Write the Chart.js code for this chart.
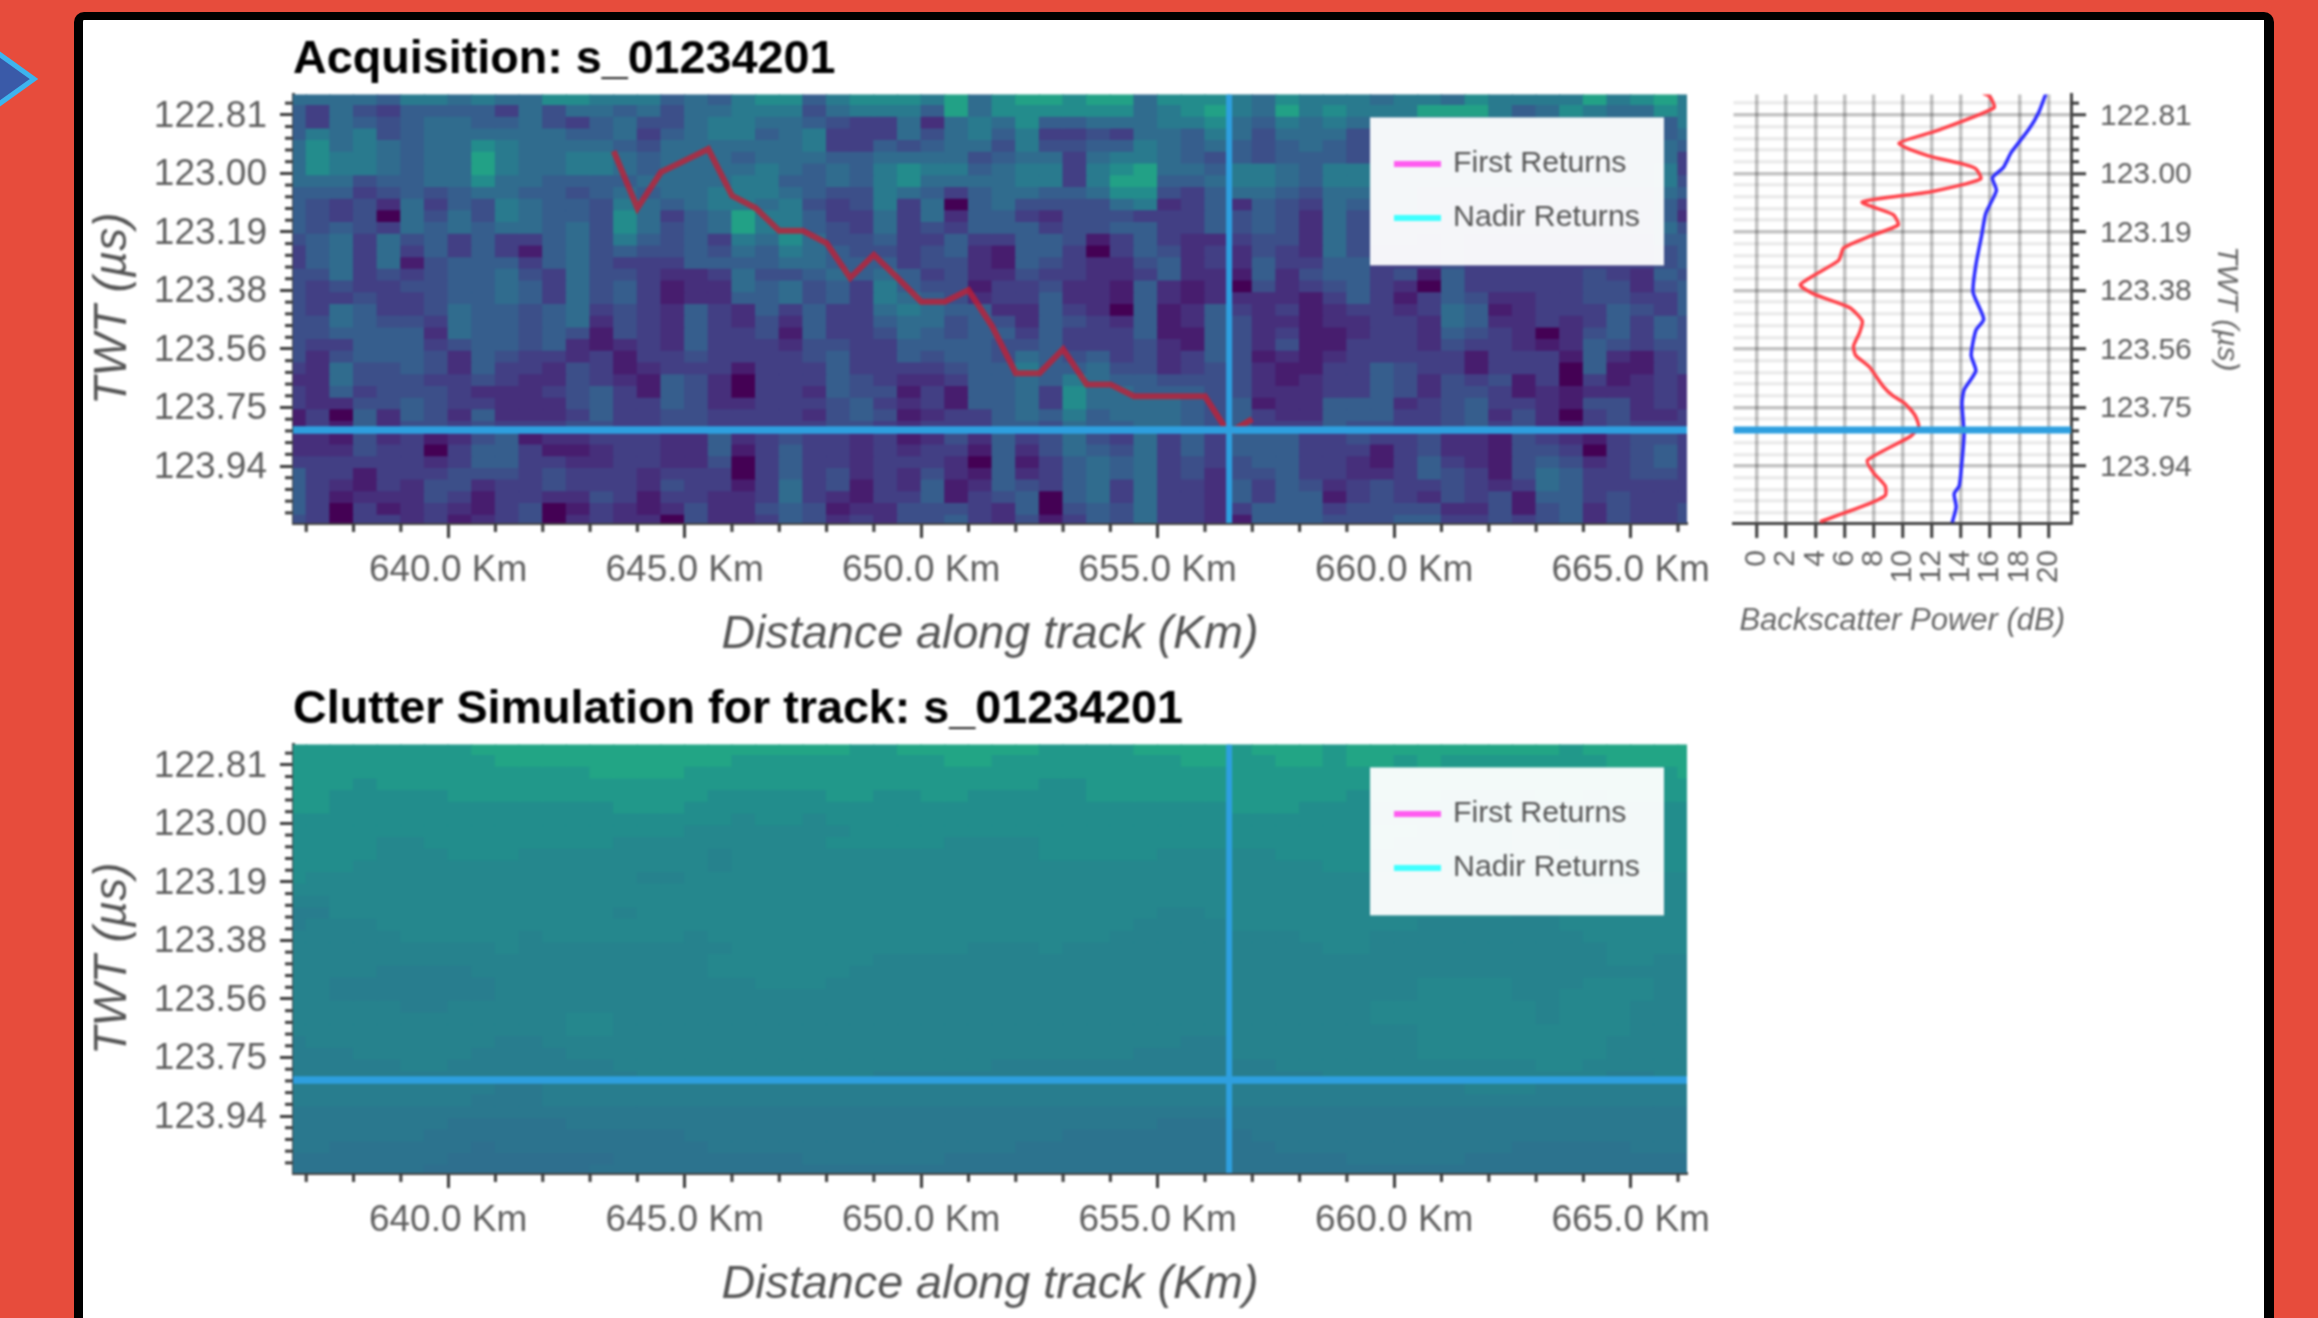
<!DOCTYPE html>
<html>
<head>
<meta charset="utf-8">
<script src="https://cdn.jsdelivr.net/npm/chart.js@4"></script>
<style>
html,body{margin:0;padding:0;width:2318px;height:1318px;overflow:hidden;background:#e74c3c}
#frame{position:absolute;left:74px;top:12px;width:2180.5px;height:1400px;background:#fff;border:solid #000;border-width:8px 10px 0 9px;border-radius:10px 10px 0 0;box-sizing:content-box}
canvas{position:absolute;filter:blur(.9px)}
#arrow{position:absolute;left:0;top:0}
</style>
</head>
<body>
<svg id="arrow" width="60" height="130"><polygon points="-10,47.5 34,79 -10,110.5" fill="#3a5aa8" stroke="#3db4ee" stroke-width="5"/></svg>
<div id="frame"></div>
<canvas id="acq" width="1651" height="627" style="left:84px;top:33px"></canvas>
<canvas id="sim" width="1651" height="627" style="left:84px;top:683px"></canvas>
<canvas id="prof" width="540" height="627" style="left:1720px;top:33px"></canvas>
<script>
// ---------- axis ticks and labels ----------
const xMajorTicks = [640, 645, 650, 655, 660, 665];
const xTicksAll = [637,638,639,640,641,642,643,644,645,646,647,648,649,650,651,652,653,654,655,656,657,658,659,660,661,662,663,664,665,666];
const xTickLabels = ['640.0 Km','645.0 Km','650.0 Km','655.0 Km','660.0 Km','665.0 Km'];
const twtTicks = [122.8125,123,123.1875,123.375,123.5625,123.75,123.9375];
const twtTickLabels = ['122.81','123.00','123.19','123.38','123.56','123.75','123.94'];
const twtMinorTicks = [122.775,122.85,122.8875,122.925,122.9625,123.0375,123.075,123.1125,123.15,123.225,123.2625,123.3,123.3375,123.4125,123.45,123.4875,123.525,123.6,123.6375,123.675,123.7125,123.7875,123.825,123.8625,123.9,123.975,124.0125,124.05,124.0875];
const dbTicks = [0,2,4,6,8,10,12,14,16,18,20];
const legendNames = ['First Returns','Nadir Returns'];
const legendColors = ['#ff5cf0','#40ffff'];

// ---------- range limits ----------
const twtMin = 122.747, twtMax = 124.12;
const kmMin = 636.72, kmMax = 666.19;
const dbMin = -1.61, dbMax = 21.55;
const crossKm = 656.51, crossTwt = 123.822;

// ---------- colour position of each cell level ----------
const acqLevelT = [0,.08,.135,.185,.24,.295,.35,.41,.48,.57];
const simLevelT = [.35,.365,.38,.40,.42,.44,.46,.485,.53,.585];

// ---------- acquisition radargram, level per cell, left / middle / right columns ----------
const acqLeft = ["666657767668877756578","536435555364665646677","536545665564356446776","576745666666556356775","686765668766665466666","687765669766776566656","687765669766776566667","666455668665555666677","555345456655456566777","543426354765547656776","543406464765548635697","545436565665648645697","456364535335647545376","356363535315645445465","356361455535643335555","446343455643644322364","434334455653645312265","433433455653645312255","436533465545634325325","446544365545624325324","445555265545414325334","433555345545212325333","424555425433231334333","326445425332431233313","226444334322432154203","325344432223453154203","322445433222453354223","130525425222353344333","131524434333443344333","221423124512233322523","222433035531123322513","333333235533223322403","533133344434333233303","532132442334333243313","531222431332243133223","530312321340132124224","430332312340232204223"];
const acqMid = ["8578887968998996888","7467775968888886789","6543362676855666778","6733364675733436657","6733545664744557656","6655666645663677654","6565787756773789665","5565786666773799556","6544765356655688435","7434736056444467235","7533636255324443335","7543634355534455335","8644533533554135322","7654434521553035423","6655534421543224523","4565653422433223522","6453754413342215212","6453765423352215212","3533676552253205125","2533566454254325125","1533465455353335115","2443355554453334215","3453354554654534235","3353333455755644234","3354322355657655444","3254413155638665554","3345323155638666654","3245412335657566654","3344323335546556654","4332312425346436353","5332323315246546353","5332333205135656343","5342324215235656342","6341325125435636332","6321335134505636332","5412244432504546332","5423244532413546332"];
const acqRight = ["76877767768777797897","76978777999756876687","65767666666666666657","64666466666666666656","54565466655555555565","54555466555555555563","77657766555555555573","77657766555555555574","66546655444444444465","25436555444444444453","45426444444444444452","45426444444444444464","34426444343333333355","24326433343333333345","25335533343333333345","15245534153333343254","04234532053333344245","22213531354223344335","32312332365123335435","42212233265223235354","42311233254320245354","42411333243321254344","41212333331333152134","42113354331333051134","42123354243413031232","42223354244312122232","51225552345332144232","53225553345242034223","53335443345342134333","55533433422143213443","55533313422144303453","45533213532145423453","44533223543146533443","53542343343236533333","53551343243415534333","35553444422414524334","15554445533434524334"];

// ---------- clutter simulation, level per cell ----------
const simRows = [
"8888888899 9999999999 9999889999 9988889999 8999899999 9999899999",
"8888888889 9999999998 8888888899 8888888899 8899899898 8888889999",
"8888888888 8889999888 8888888888 8888888888 8888888888 8888888889",
"8887888888 8888888888 8888888888 8877888888 8888888888 8888888888",
"8877777888 8888888877 7778877887 7777888888 8888878887 7778878888",
"8877777777 7777888777 7777777777 7777777777 8887777777 7777777777",
"7777777777 7777777776 7767777777 7777777777 7777777777 7777777777",
"7777777777 7777777666 6666777777 7777777777 7777778877 7766777777",
"7777667777 7777666666 6667777766 6677777777 7777778777 7766777777",
"7777666777 6666666656 6666666666 6677777666 6677777777 7766677777",
"7776666666 6666666656 6666666666 6666666666 6666777677 6666677777",
"7666666666 6666655666 6666666666 6666666666 6666666666 6666677666",
"6666666666 6666666666 6666666666 6666666666 6666666666 6666666666",
"5566666666 6666666666 6666666666 6666666666 6666666666 6655666666",
"4466666666 6666566666 6666666666 6666666556 6666666666 6655666666",
"4555666666 6666666666 6666666666 6666665555 6666666655 5555666666",
"5555566666 5666666566 6666666666 6666655555 5556665555 5555566666",
"5555555556 5555555556 6666666665 5565555555 5555665555 5555556666",
"5555555555 5555555566 6666655555 5555555555 5555555555 5555556655",
"5555444455 5555555566 6666555555 5555555555 5555555555 5555555555",
"5544444445 5555555555 6665555555 5555555555 5555555566 6655566655",
"5544444445 5555555555 5555555555 5555555555 5555555566 6655666655",
"5555544555 5555555555 5555555555 5555555555 5555556666 6665666555",
"5555555555 5566555555 5555555555 5555555555 5555556666 6665666555",
"5555555555 5566555555 5555555555 5555555555 5555555566 6666666555",
"4555555554 4555555555 5555555555 5555555544 5555555566 6666665555",
"4445555544 4455555555 5555555555 5555554444 5555555566 6666665555",
"4444455444 4444555555 5555555555 4444444444 4455555555 5556655555",
"4444444444 4444455555 5555544444 4444444444 4444555555 5555554455",
"4444444443 3444444444 4444444444 4444444444 4444444444 5554444444",
"4444444433 3444444444 4444444444 4444444444 4444444444 4444444444",
"3333333333 3333333333 3333333333 3333333333 3333333333 3333333333",
"3333333222 2233333333 3333333333 3333333222 3333333333 3333333333",
"3333332222 2222222333 3333333333 3332222222 2333333333 3333333333",
"3322222212 2222222233 3333333333 3222222222 2233333333 3322222333",
"2222222111 1111222222 2233333322 2222222222 2222233333 2222222222",
"2222221111 1112222222 2222222222 2222222222 2222222222 2222222222"
];

// ---------- first-return track on the acquisition ----------
const trackKm = [643.5,644,644.5,645,645.5,646,646.5,647,647.5,648,648.5,649,649.5,650,650.5,651,651.5,652,652.5,653,653.5,654,654.5,655,655.5,656,656.5,657];
const trackTwt = [122.929,123.111,122.996,122.959,122.922,123.071,123.111,123.184,123.184,123.223,123.335,123.261,123.335,123.411,123.411,123.374,123.49,123.64,123.64,123.563,123.676,123.676,123.714,123.714,123.714,123.714,123.832,123.787];

// ---------- power profile ----------
const acqProfDb = [15.51,15.97,16.27,12.31,9.74,11.77,14.21,15.02,15.35,12.04,7.23,9.34,9.69,7.71,5.95,5.6,2.98,3.92,6.36,7.23,7.04,6.63,6.77,7.71,8.66,9.34,10.15,10.83,11.1,10.55,7.58,7.98,8.8,8.8,7.44,4.33];
const acqProfTwt = [122.743,122.7535,122.79,122.864,122.904,122.944,122.971,122.985,123.018,123.058,123.092,123.132,123.165,123.202,123.239,123.279,123.356,123.387,123.43,123.473,123.51,123.553,123.583,123.62,123.682,123.713,123.737,123.774,123.811,123.842,123.919,123.958,124.001,124.032,124.063,124.116];
const simProfDb = [19.84,19.35,18.67,17.46,16.91,16.16,16.43,15.7,15.43,15.02,14.83,15.56,15.02,14.7,15.02,14.21,14.07,14.21,14.07,13.88,13.53,13.67,13.4];
const simProfTwt = [122.743,122.803,122.858,122.932,122.981,123.014,123.055,123.128,123.196,123.294,123.381,123.467,123.503,123.583,123.633,123.694,123.737,123.835,123.922,124.001,124.026,124.069,124.118];

// ---------- helpers ----------
const viridis = [[68,1,84],[72,36,117],[65,68,135],[53,95,141],[42,120,142],[33,145,140],[34,168,132],[68,191,112]];
function viridisAt(t){
  const p = Math.max(0,Math.min(.6999,t))*10, i = Math.floor(p), f = p-i;
  const a = viridis[i], b = viridis[i+1];
  return `rgb(${a.map((c,k)=>Math.round(c+(b[k]-c)*f)).join(',')})`;
}
const pairs = (xs,ys)=>xs.map((x,i)=>({x,y:ys[i]}));
const FONT = "'Liberation Sans', Arial, sans-serif";

function heatDatasets(rows, levelT){
  const cols = 60, firstKm = 636.75, kmStep = .5;
  const firstEdge = 122.779, twtStep = .0375;
  return rows.map((row,r)=>{
    const data = [], colors = [];
    for(let c=0;c<cols;c++){
      const lv = +(row[c] ?? row[row.length-1]);
      const t0 = r===0 ? twtMin : firstEdge+(r-1)*twtStep;
      const t1 = Math.min(twtMax, firstEdge+r*twtStep);
      data.push({x:firstKm+c*kmStep, y:[t0,t1]});
      colors.push(viridisAt(levelT[lv]));
    }
    return {type:'bar',label:'row'+r,data,backgroundColor:colors,barPercentage:1,categoryPercentage:1,grouped:false,order:10,borderWidth:0,inflateAmount:.6};
  });
}
const crossColor = '#2e9fdf';
function crossDatasets(){
  return [
    {type:'line',label:'cross-x',data:[{x:crossKm,y:twtMin},{x:crossKm,y:twtMax}],borderColor:crossColor,borderWidth:6,pointRadius:0,order:1},
    {type:'line',label:'cross-y',data:[{x:kmMin,y:crossTwt},{x:kmMax,y:crossTwt}],borderColor:crossColor,borderWidth:7.5,pointRadius:0,order:1}
  ];
}
const minorTicksPlugin = {
  id:'minorTicks',
  afterDraw(chart,_a,opts){
    const {ctx,scales:{x,y}} = chart;
    ctx.save(); ctx.strokeStyle='#3a3a3a'; ctx.lineWidth=3;
    for(const v of twtMinorTicks){
      const p=y.getPixelForValue(v);
      ctx.beginPath();
      if(opts.side==='right'){ctx.moveTo(y.left,p);ctx.lineTo(y.left+8,p);}
      else {ctx.moveTo(y.right-8,p);ctx.lineTo(y.right,p);}
      ctx.stroke();
    }
    if(opts.xMinor){
      for(const v of xTicksAll){
        if(xMajorTicks.includes(v)) continue;
        const p=x.getPixelForValue(v);
        ctx.beginPath();ctx.moveTo(p,x.top);ctx.lineTo(p,x.top+9);ctx.stroke();
      }
    }
    ctx.restore();
  }
};
const legendPlugin = {
  id:'boxLegend',
  afterDraw(chart){
    const {ctx,chartArea:a} = chart;
    const w=294,h=148,l=a.right-w-23,t=a.top+23;
    ctx.save();
    ctx.fillStyle='rgba(255,255,255,.95)';ctx.fillRect(l,t,w,h);
    ctx.font=`30.3px ${FONT}`;ctx.textBaseline='middle';ctx.textAlign='left';
    legendNames.forEach((n,i)=>{
      const yy=t+46.5+i*54;
      ctx.strokeStyle=legendColors[i];ctx.lineWidth=6;
      ctx.beginPath();ctx.moveTo(l+24,yy);ctx.lineTo(l+71,yy);ctx.stroke();
      ctx.fillStyle='#555';ctx.fillText(n,l+83,yy);
    });
    ctx.restore();
  }
};

function radarChart(id,title,heat,extra){
  return new Chart(document.getElementById(id),{
    type:'bar',
    data:{datasets:[...crossDatasets(),...extra,...heat]},
    plugins:[minorTicksPlugin,legendPlugin],
    options:{
      responsive:false,animation:false,events:[],
      layout:{padding:{top:0,left:0,right:48,bottom:0}},
      plugins:{
        legend:{display:false},tooltip:{enabled:false},
        minorTicks:{side:'left',xMinor:true},
        title:{display:true,text:title,align:'start',fullSize:false,color:'#000',
          font:{family:FONT,size:46.7,weight:'bold',lineHeight:1},padding:{top:4,bottom:10.7}}
      },
      scales:{
        x:{type:'linear',min:kmMin,max:kmMax,offset:false,afterFit(s){s.height=137;},
          afterBuildTicks(s){s.ticks=xMajorTicks.map(value=>({value}));},
          grid:{display:true,offset:false,drawOnChartArea:false,tickLength:15,tickWidth:3,tickColor:'#3a3a3a'},
          border:{color:'#444',width:3},
          ticks:{autoSkip:false,maxRotation:0,padding:11,color:'#5f5f5f',font:{family:FONT,size:37},
            callback:v=>xTickLabels[xMajorTicks.indexOf(v)]},
          title:{display:true,text:'Distance along track (Km)',color:'#555',font:{family:FONT,size:46.7,style:'italic',lineHeight:1},padding:{top:5,bottom:2}}},
        y:{type:'linear',reverse:true,min:twtMin,max:twtMax,afterFit(s){s.width=209;},
          afterBuildTicks(s){s.ticks=twtTicks.map(value=>({value}));},
          grid:{display:true,drawOnChartArea:false,tickLength:13,tickWidth:3,tickColor:'#3a3a3a'},
          border:{color:'#444',width:3},
          ticks:{autoSkip:false,padding:13,labelOffset:1.5,color:'#5f5f5f',font:{family:FONT,size:37},
            callback:v=>twtTickLabels[twtTicks.indexOf(v)]},
          title:{display:true,text:'TWT (µs)',color:'#555',font:{family:FONT,size:46,style:'italic',lineHeight:1},padding:{top:6,bottom:5}}}
      }
    }
  });
}

const acqGrid = acqLeft.map((s,i)=>s+acqMid[i]+acqRight[i]);
const simGrid = simRows.map(s=>s.replace(/ /g,''));

radarChart('acq','Acquisition: s_01234201',heatDatasets(acqGrid,acqLevelT),[
  {type:'line',label:legendNames[0],data:pairs(trackKm,trackTwt),borderColor:'rgba(200,30,50,.75)',borderWidth:6,pointRadius:0,order:2},
  {type:'line',label:legendNames[1],data:[],borderColor:legendColors[1],pointRadius:0,order:2}
]);
radarChart('sim','Clutter Simulation for track: s_01234201',heatDatasets(simGrid,simLevelT),[
  {type:'line',label:legendNames[0],data:[],borderColor:legendColors[0],pointRadius:0,order:2},
  {type:'line',label:legendNames[1],data:[],borderColor:legendColors[1],pointRadius:0,order:2}
]);

new Chart(document.getElementById('prof'),{
  type:'line',
  data:{datasets:[
    {label:'cross-y',data:[{x:dbMin,y:crossTwt},{x:dbMax,y:crossTwt}],borderColor:crossColor,borderWidth:7,pointRadius:0,order:1},
    {label:'Acquisition',data:pairs(acqProfDb,acqProfTwt),borderColor:'#ff4048',borderWidth:3.5,pointRadius:0,tension:.2,order:2},
    {label:'Simulation',data:pairs(simProfDb,simProfTwt),borderColor:'#2a2aff',borderWidth:3.5,pointRadius:0,tension:.2,order:3}
  ]},
  plugins:[minorTicksPlugin],
  options:{
    responsive:false,animation:false,events:[],
    layout:{padding:{top:61.4,left:13.5,right:0,bottom:0}},
    plugins:{legend:{display:false},tooltip:{enabled:false},minorTicks:{side:'right',xMinor:false}},
    scales:{
      x:{type:'linear',min:dbMin,max:dbMax,afterFit(s){s.height=137;},
        afterBuildTicks(s){s.ticks=dbTicks.map(value=>({value}));},
        grid:{color:'rgba(0,0,0,.24)',lineWidth:3.5,tickLength:15,tickWidth:3,tickColor:'#3a3a3a'},
        border:{color:'#444',width:3},
        ticks:{autoSkip:false,minRotation:90,maxRotation:90,padding:12,color:'#5f5f5f',font:{family:FONT,size:30}},
        title:{display:true,text:'Backscatter Power (dB)',color:'#666',font:{family:FONT,size:31,style:'italic',lineHeight:1},padding:{top:23.5,bottom:23.5}}},
      y:{type:'linear',position:'right',reverse:true,min:twtMin,max:twtMax,afterFit(s){s.width=189;},
        afterBuildTicks(s){s.ticks=[...twtTicks,...twtMinorTicks].map(value=>({value}));},
        grid:{
          color:c=>twtTicks.includes(c.tick.value)?'rgba(0,0,0,.24)':'rgba(0,0,0,.08)',
          lineWidth:3.5,tickLength:15,tickWidth:3,
          tickColor:c=>twtTicks.includes(c.tick.value)?'#3a3a3a':'rgba(0,0,0,0)'},
        border:{color:'#444',width:3},
        ticks:{autoSkip:false,padding:14,labelOffset:1.5,color:'#5f5f5f',font:{family:FONT,size:30},
          callback:v=>twtTicks.includes(v)?twtTickLabels[twtTicks.indexOf(v)]:''},
        title:{display:true,text:'TWT (µs)',color:'#666',font:{family:FONT,size:30,style:'italic',lineHeight:1},padding:{top:19,bottom:19}}}
    }
  }
});
</script>
</body>
</html>
